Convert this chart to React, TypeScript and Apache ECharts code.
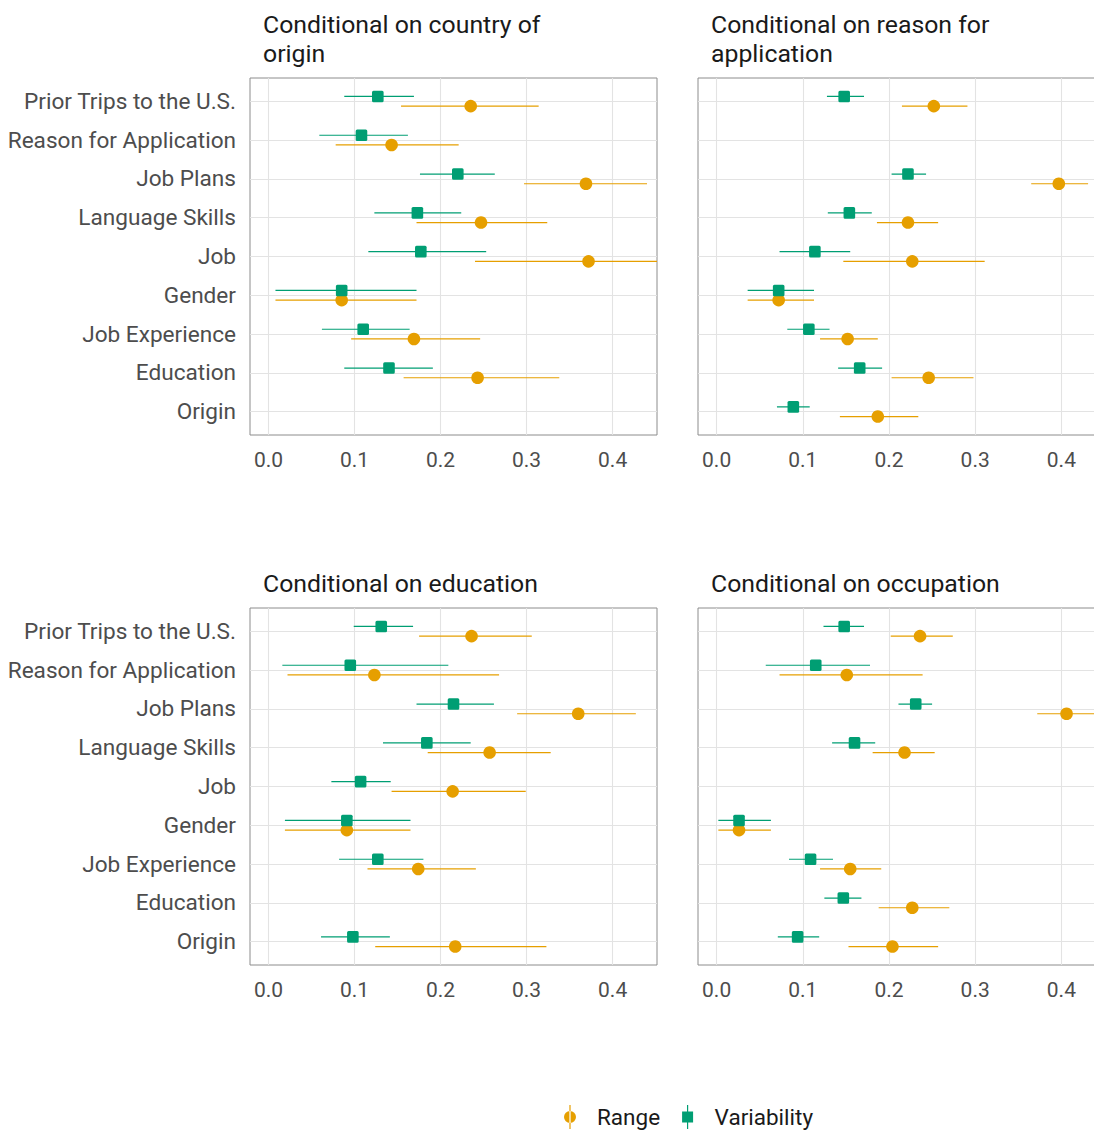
import React, { useEffect, useRef } from 'react';
import * as echarts from 'echarts';

// Categories from bottom (index 0) to top (index 8)
const categories = [
  'Origin',
  'Education',
  'Job Experience',
  'Gender',
  'Job',
  'Language Skills',
  'Job Plans',
  'Reason for Application',
  'Prior Trips to the U.S.',
];

const panelTitles = [
  'Conditional on country of\norigin',
  'Conditional on reason for\napplication',
  'Conditional on education',
  'Conditional on occupation',
];

const xTickLabels = ['0.0', '0.1', '0.2', '0.3', '0.4'];
const legendNames = ['Range', 'Variability'];

// Panel 1: country of origin
const rangeEst1 = [null, 0.243, 0.169, 0.085, 0.372, 0.247, 0.369, 0.143, 0.235];
const rangeLo1 = [null, 0.157, 0.096, 0.008, 0.240, 0.172, 0.297, 0.078, 0.154];
const rangeHi1 = [null, 0.338, 0.246, 0.172, 0.500, 0.324, 0.440, 0.221, 0.314];
const varEst1 = [null, 0.140, 0.110, 0.085, 0.177, 0.173, 0.220, 0.108, 0.127];
const varLo1 = [null, 0.088, 0.062, 0.008, 0.116, 0.123, 0.176, 0.059, 0.088];
const varHi1 = [null, 0.191, 0.164, 0.172, 0.253, 0.224, 0.263, 0.162, 0.169];

// Panel 2: reason for application
const rangeEst2 = [0.187, 0.246, 0.152, 0.072, 0.227, 0.222, 0.397, null, 0.252];
const rangeLo2 = [0.143, 0.203, 0.120, 0.036, 0.147, 0.186, 0.365, null, 0.215];
const rangeHi2 = [0.234, 0.298, 0.187, 0.113, 0.311, 0.257, 0.431, null, 0.291];
const varEst2 = [0.089, 0.166, 0.107, 0.072, 0.114, 0.154, 0.222, null, 0.148];
const varLo2 = [0.070, 0.141, 0.082, 0.036, 0.073, 0.129, 0.203, null, 0.128];
const varHi2 = [0.108, 0.192, 0.131, 0.113, 0.155, 0.180, 0.243, null, 0.171];

// Panel 3: education
const rangeEst3 = [0.217, null, 0.174, 0.091, 0.214, 0.257, 0.360, 0.123, 0.236];
const rangeLo3 = [0.124, null, 0.115, 0.019, 0.143, 0.185, 0.289, 0.022, 0.175];
const rangeHi3 = [0.323, null, 0.241, 0.165, 0.299, 0.328, 0.427, 0.268, 0.306];
const varEst3 = [0.098, null, 0.127, 0.091, 0.107, 0.184, 0.215, 0.095, 0.131];
const varLo3 = [0.061, null, 0.082, 0.019, 0.073, 0.133, 0.172, 0.016, 0.099];
const varHi3 = [0.141, null, 0.180, 0.165, 0.142, 0.235, 0.262, 0.209, 0.168];

// Panel 4: occupation
const rangeEst4 = [0.204, 0.227, 0.155, 0.026, null, 0.218, 0.406, 0.151, 0.236];
const rangeLo4 = [0.153, 0.188, 0.120, 0.002, null, 0.181, 0.372, 0.073, 0.202];
const rangeHi4 = [0.257, 0.270, 0.191, 0.063, null, 0.253, 0.442, 0.239, 0.274];
const varEst4 = [0.094, 0.147, 0.109, 0.026, null, 0.160, 0.231, 0.115, 0.148];
const varLo4 = [0.071, 0.125, 0.084, 0.002, null, 0.134, 0.211, 0.057, 0.124];
const varHi4 = [0.119, 0.168, 0.135, 0.063, null, 0.184, 0.250, 0.178, 0.171];

const panels = [
  { range: [rangeEst1, rangeLo1, rangeHi1], vari: [varEst1, varLo1, varHi1] },
  { range: [rangeEst2, rangeLo2, rangeHi2], vari: [varEst2, varLo2, varHi2] },
  { range: [rangeEst3, rangeLo3, rangeHi3], vari: [varEst3, varLo3, varHi3] },
  { range: [rangeEst4, rangeLo4, rangeHi4], vari: [varEst4, varLo4, varHi4] },
];

const ORANGE = '#E69F00';
const GREEN = '#009E73';
const DODGE = 0.125;
const FONT = 'Roboto';

const layout = [
  { left: 250, top: 78, width: 407, height: 357, xMax: 0.4516, titleLeft: 263, titleTop: 10 },
  { left: 698, top: 78, width: 397, height: 357, xMax: 0.439, titleLeft: 711, titleTop: 10 },
  { left: 250, top: 608, width: 407, height: 357, xMax: 0.4516, titleLeft: 263, titleTop: 569 },
  { left: 698, top: 608, width: 397, height: 357, xMax: 0.439, titleLeft: 711, titleTop: 569 },
];

function buildRows(arrs: (number | null)[][], offset: number) {
  const [est, lo, hi] = arrs;
  const rows: number[][] = [];
  for (let i = 0; i < categories.length; i++) {
    if (est[i] == null) continue;
    rows.push([i + offset, lo[i] as number, hi[i] as number, est[i] as number]);
  }
  return rows;
}

function makeRender(kind: 'circle' | 'square', color: string) {
  return (params: any, api: any) => {
    const pos = api.value(0);
    const lo = api.coord([api.value(1), pos]);
    const hi = api.coord([api.value(2), pos]);
    const c = api.coord([api.value(3), pos]);
    const marker =
      kind === 'circle'
        ? { type: 'circle', shape: { cx: c[0], cy: c[1], r: 6.3 }, style: { fill: color } }
        : {
            type: 'rect',
            shape: { x: c[0] - 5.8, y: c[1] - 5.8, width: 11.6, height: 11.6, r: 1.5 },
            style: { fill: color },
          };
    return {
      type: 'group',
      children: [
        {
          type: 'line',
          shape: { x1: lo[0], y1: lo[1], x2: hi[0], y2: hi[1] },
          style: { stroke: color, lineWidth: 1.2 },
        },
        marker,
      ],
    };
  };
}

function fmtX(v: number) {
  const k = Math.round(v * 10);
  if (Math.abs(v * 10 - k) < 1e-6 && k >= 0 && k < xTickLabels.length) return xTickLabels[k];
  return '';
}

function fmtY(v: number) {
  const k = Math.round(v);
  if (Math.abs(v - k) < 1e-6 && k >= 0 && k < categories.length) return categories[k];
  return '';
}

export default function App() {
  const ref = useRef<HTMLDivElement>(null);
  useEffect(() => {
    if (!ref.current) return;
    const chart = echarts.init(ref.current, undefined, { renderer: 'svg' });
    const gridLine = { color: '#E3E3E3', width: 1.1 };
    const option: any = {
      animation: false,
      textStyle: { fontFamily: FONT },
      title: layout.map((L, i) => ({
        text: panelTitles[i],
        left: L.titleLeft,
        top: L.titleTop,
        padding: 0,
        textStyle: {
          fontFamily: FONT,
          fontSize: 24.8,
          fontWeight: 'normal',
          color: '#1A1A1A',
          lineHeight: 29,
        },
      })),
      legend: {
        data: [
          { name: legendNames[0], icon: 'path://M5.4 0H6.6V24H5.4Z M0 12A6 6 0 1 0 12 12A6 6 0 1 0 0 12Z' },
          { name: legendNames[1], icon: 'path://M5.4 0H6.6V24H5.4Z M0.5 6.5H11.5V17.5H0.5Z' },
        ],
        left: 564,
        top: 1105,
        padding: 0,
        itemWidth: 12,
        itemHeight: 24,
        itemGap: 22,
        selectedMode: false,
        textStyle: { fontFamily: FONT, fontSize: 22.5, color: '#1A1A1A', padding: [0, 0, 0, 16] },
      },
      grid: layout.map((L) => ({
        left: L.left,
        top: L.top,
        width: L.width,
        height: L.height,
        show: true,
        borderColor: '#8C8C8C',
        borderWidth: 1,
        backgroundColor: 'transparent',
        containLabel: false,
        outerBoundsMode: 'none',
      })),
      xAxis: layout.map((L, i) => ({
        gridIndex: i,
        type: 'value',
        min: -0.0216,
        max: L.xMax,
        minInterval: 0.1,
        maxInterval: 0.1,
        axisLine: { show: false },
        axisTick: { show: false },
        splitLine: { show: true, showMinLine: false, showMaxLine: false, lineStyle: gridLine },
        axisLabel: {
          formatter: fmtX,
          fontSize: 21,
          fontFamily: FONT,
          color: '#4D4D4D',
          margin: 14,
          showMinLabel: true,
          showMaxLabel: true,
        },
      })),
      yAxis: layout.map((L, i) => ({
        gridIndex: i,
        type: 'value',
        min: -0.6,
        max: 8.6,
        minInterval: 1,
        maxInterval: 1,
        axisLine: { show: false },
        axisTick: { show: false },
        splitLine: { show: true, showMinLine: false, showMaxLine: false, lineStyle: gridLine },
        axisLabel: {
          show: i % 2 === 0,
          formatter: fmtY,
          fontSize: 22.6,
          fontFamily: FONT,
          color: '#4D4D4D',
          margin: 14,
        },
      })),
      series: [] as any[],
    };
    panels.forEach((p, i) => {
      option.series.push({
        type: 'custom',
        name: legendNames[0],
        xAxisIndex: i,
        yAxisIndex: i,
        clip: true,
        itemStyle: { color: ORANGE },
        dimensions: ['pos', 'lo', 'hi', 'est'],
        encode: { x: [1, 2, 3], y: 0 },
        data: buildRows(p.range, -DODGE),
        renderItem: makeRender('circle', ORANGE),
      });
    });
    panels.forEach((p, i) => {
      option.series.push({
        type: 'custom',
        name: legendNames[1],
        xAxisIndex: i,
        yAxisIndex: i,
        clip: true,
        itemStyle: { color: GREEN },
        dimensions: ['pos', 'lo', 'hi', 'est'],
        encode: { x: [1, 2, 3], y: 0 },
        data: buildRows(p.vari, DODGE),
        renderItem: makeRender('square', GREEN),
      });
    });
    chart.setOption(option);
    return () => chart.dispose();
  }, []);
  return (
    <div
      ref={ref}
      style={{ position: 'absolute', left: 0, top: 0, width: 1094, height: 1131, background: '#FFFFFF' }}
    />
  );
}
